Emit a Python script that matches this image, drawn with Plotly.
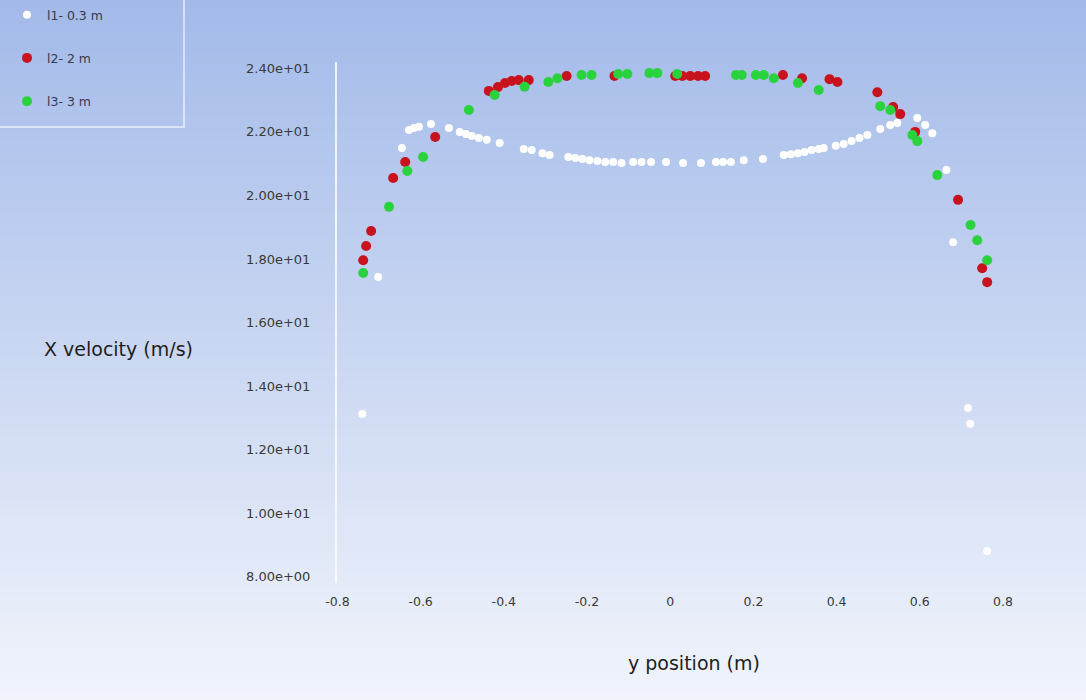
import zlib, struct, base64
import plotly.graph_objects as go

# ---------------- data ----------------
series_names = ["l1- 0.3 m", "l2- 2 m", "l3- 3 m"]

l1_y_position = [-0.740, -0.702, -0.645, -0.628, -0.616, -0.604, -0.575, -0.532, -0.506, -0.491,
                 -0.477, -0.460, -0.441, -0.410, -0.352, -0.333, -0.307, -0.290, -0.245, -0.228,
                 -0.211, -0.194, -0.175, -0.156, -0.137, -0.117, -0.089, -0.069, -0.046, -0.010,
                 0.031, 0.074, 0.110, 0.127, 0.146, 0.177, 0.223, 0.273, 0.290, 0.307,
                 0.323, 0.340, 0.357, 0.369, 0.398, 0.417, 0.436, 0.455, 0.474, 0.505,
                 0.529, 0.546, 0.594, 0.613, 0.630, 0.664, 0.680, 0.716, 0.721, 0.762]
l1_x_velocity = [13.12, 17.43, 21.49, 22.06, 22.12, 22.16, 22.25, 22.12, 22.00, 21.93,
                 21.87, 21.81, 21.75, 21.65, 21.46, 21.43, 21.33, 21.27, 21.21, 21.18,
                 21.15, 21.11, 21.08, 21.05, 21.05, 21.02, 21.05, 21.05, 21.05, 21.05,
                 21.02, 21.02, 21.05, 21.05, 21.05, 21.11, 21.15, 21.27, 21.30, 21.33,
                 21.37, 21.43, 21.46, 21.49, 21.56, 21.62, 21.71, 21.81, 21.90, 22.09,
                 22.22, 22.28, 22.44, 22.22, 21.96, 20.80, 18.53, 13.31, 12.81, 8.81]

l2_y_position = [-0.738, -0.731, -0.719, -0.666, -0.637, -0.565, -0.436, -0.414, -0.397, -0.381,
                 -0.364, -0.340, -0.249, -0.134, 0.012, 0.029, 0.048, 0.067, 0.084, 0.271,
                 0.317, 0.383, 0.402, 0.498, 0.536, 0.553, 0.589, 0.692, 0.750, 0.762]
l2_x_velocity = [17.96, 18.41, 18.88, 20.55, 21.05, 21.84, 23.29, 23.41, 23.54, 23.60,
                 23.63, 23.63, 23.76, 23.76, 23.76, 23.76, 23.76, 23.76, 23.76, 23.79,
                 23.69, 23.66, 23.57, 23.25, 22.78, 22.56, 22.00, 19.86, 17.71, 17.27]

l3_y_position = [-0.738, -0.676, -0.632, -0.594, -0.484, -0.422, -0.350, -0.293, -0.271, -0.213,
                 -0.189, -0.125, -0.103, -0.050, -0.031, 0.017, 0.158, 0.172, 0.206, 0.225,
                 0.249, 0.307, 0.357, 0.505, 0.529, 0.582, 0.594, 0.642, 0.722, 0.738, 0.762]
l3_x_velocity = [17.56, 19.64, 20.77, 21.21, 22.69, 23.16, 23.42, 23.57, 23.69, 23.79,
                 23.79, 23.82, 23.82, 23.85, 23.85, 23.82, 23.79, 23.79, 23.79, 23.79,
                 23.69, 23.54, 23.32, 22.81, 22.69, 21.90, 21.71, 20.64, 19.07, 18.59, 17.96]

x_tick_values = [-0.8, -0.6, -0.4, -0.2, 0, 0.2, 0.4, 0.6, 0.8]
x_tick_labels = ["-0.8", "-0.6", "-0.4", "-0.2", "0", "0.2", "0.4", "0.6", "0.8"]
y_tick_values = [8, 10, 12, 14, 16, 18, 20, 22, 24]
y_tick_labels = ["8.00e+00", "1.00e+01", "1.20e+01", "1.40e+01", "1.60e+01",
                 "1.80e+01", "2.00e+01", "2.20e+01", "2.40e+01"]

# ---------------- styling ----------------
W, H = 1086, 700
L, R, T, B = 337, 46, 62, 117
PW, PH = W - L - R, H - T - B
FONT = "DejaVu Sans, Liberation Sans, Arial, sans-serif"


def gradient_png(top, bottom, h=256):
    raw = b""
    for i in range(h):
        t = i / (h - 1)
        c = [round(top[k] + (bottom[k] - top[k]) * t) for k in range(3)]
        raw += b"\x00" + bytes(c)

    def chunk(tag, data):
        return (struct.pack(">I", len(data)) + tag + data +
                struct.pack(">I", zlib.crc32(tag + data) & 0xffffffff))

    ihdr = struct.pack(">IIBBBBB", 1, h, 8, 2, 0, 0, 0)
    png = (b"\x89PNG\r\n\x1a\n" + chunk(b"IHDR", ihdr) +
           chunk(b"IDAT", zlib.compress(raw)) + chunk(b"IEND", b""))
    return "data:image/png;base64," + base64.b64encode(png).decode()


def px_x(p):
    return (p - L) / PW


def px_y(p):
    return (H - B - p) / PH


fig = go.Figure()
series = [
    (series_names[0], l1_y_position, l1_x_velocity, "#ffffff", 8),
    (series_names[1], l2_y_position, l2_x_velocity, "#c8121e", 10),
    (series_names[2], l3_y_position, l3_x_velocity, "#2ad23e", 10),
]
for name, xs, ys, col, sz in series:
    fig.add_trace(go.Scatter(
        x=xs, y=ys, mode="markers", name=name, legendgroup=name,
        marker=dict(color=col, size=sz, line=dict(width=0)),
    ))

fig.update_layout(
    width=W, height=H,
    margin=dict(l=L, r=R, t=T, b=B),
    paper_bgcolor="#e8eef9",
    plot_bgcolor="rgba(0,0,0,0)",
    font=dict(family=FONT, color="#333333"),
    showlegend=True,
    legend=dict(
        xref="container", yref="container", x=7 / W, y=1.0,
        xanchor="left", yanchor="top",
        bgcolor="rgba(0,0,0,0)", borderwidth=0,
        font=dict(size=12.5, color="#3a3a4a", family=FONT),
        tracegroupgap=24, itemsizing="trace",
    ),
    xaxis=dict(
        range=[-0.801, 0.889], showgrid=False, zeroline=False, showline=False,
        tickvals=x_tick_values, ticktext=x_tick_labels, ticks="",
        tickfont=dict(size=12.5, color="#3a3a3a", family=FONT), ticklabelstandoff=9,
        fixedrange=True,
    ),
    yaxis=dict(
        range=[7.8, 24.2], showgrid=False, zeroline=False,
        showline=True, linecolor="rgba(250,252,255,0.85)", linewidth=2,
        tickvals=y_tick_values, ticktext=y_tick_labels, ticks="",
        tickfont=dict(size=13, color="#3a3a3a", family=FONT), ticklabelstandoff=22,
        fixedrange=True,
    ),
    images=[dict(
        source=gradient_png((163, 186, 233), (241, 244, 251)),
        xref="paper", yref="paper", x=px_x(0), y=px_y(0),
        sizex=W / PW, sizey=H / PH, sizing="stretch",
        xanchor="left", yanchor="top", layer="below",
    )],
    shapes=[dict(
        type="rect", xref="paper", yref="paper",
        x0=px_x(-3), x1=px_x(184), y0=px_y(127), y1=px_y(-3),
        line=dict(color="rgba(238,242,252,0.9)", width=1.5),
    )],
    annotations=[
        dict(text="X velocity (m/s)", xref="paper", yref="paper",
             x=px_x(118), y=px_y(349), xanchor="center", yanchor="middle",
             showarrow=False, font=dict(size=19, color="#1e1e1e", family=FONT)),
        dict(text="y position (m)", xref="paper", yref="paper",
             x=px_x(694), y=px_y(663), xanchor="center", yanchor="middle",
             showarrow=False, font=dict(size=19, color="#1e1e1e", family=FONT)),
    ],
)

fig.write_html("out.html", config={"displayModeBar": False},
               post_script="document.body.style.margin='0';")
